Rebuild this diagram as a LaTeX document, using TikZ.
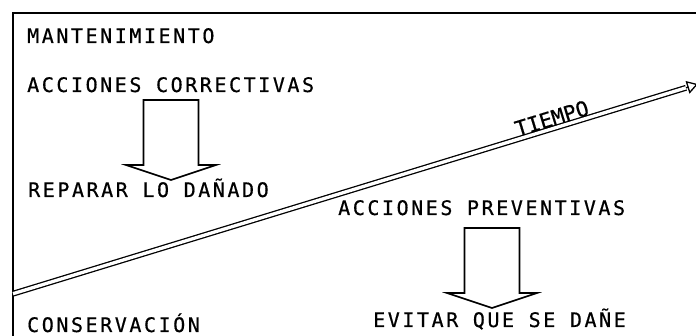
\documentclass[tikz,border=0pt]{standalone}
\usepackage{fontspec}
\newfontfamily\plotfont[LetterSpace=12.8, FakeBold=0.6]{DejaVu Sans Mono}
\newfontfamily\plotfontaxis[FakeBold=0.6]{DejaVu Sans Mono}
\usetikzlibrary{arrows.meta, calc}
\tikzset{
    lbl/.style={
        anchor=base west, inner sep=0pt,
        font=\plotfont\fontsize{20}{24}\selectfont
    },
    axislbl/.style={
        inner sep=1.5pt,
        font=\plotfontaxis\fontsize{21}{24}\selectfont
    },
    frame/.style={draw, line width=1.5pt},
    blockdown/.style={
        draw, line width=1.6pt, line join=miter,
        to path={
            let \p1=(\tikztostart), \p2=(\tikztotarget) in
            (\x1-27.5pt,\y1) -- (\x1-27.5pt,\y2+15pt) -- (\x1-45pt,\y2+15pt)
            -- (\x2,\y2) -- (\x1+45pt,\y2+15pt) -- (\x1+27.5pt,\y2+15pt)
            -- (\x1+27.5pt,\y1) -- cycle
        }
    },
    timeline/.style={double, line width=1.3pt, double distance=3.3pt},
    timehead/.style={
        line width=1.3pt,
        -{Triangle[open, length=11pt, width=13pt]},
    },
}
\begin{document}
\begin{tikzpicture}[x=1pt, y=-1pt]
    % frame, cut off at the right and the bottom
    \clip (0,0) rectangle (696,336);
    \draw[frame] (13,13) rectangle (730,370);

    % texts
    \node[lbl] (mant) at (27,43) {MANTENIMIENTO};
    \node[lbl] (corr) at (27,92) {ACCIONES CORRECTIVAS};
    \node[lbl] (rep) at (28,197) {REPARAR LO DAÑADO};
    \node[lbl] (cons) at (27,332) {CONSERVACIÓN};
    \node[lbl] (prev) at (338,215) {ACCIONES PREVENTIVAS};
    \node[lbl] (evit) at (373,327) {EVITAR QUE SE DAÑE};

    % hollow block arrows
    \coordinate (c1) at (171,100);
    \coordinate (c2) at (171,180);
    \coordinate (p1) at (492,228);
    \coordinate (p2) at (492,308);
    \draw[blockdown] (c1) to (c2);
    \draw[blockdown] (p1) to (p2);

    % time axis
    \coordinate (t0) at (13,293.7);
    \coordinate (t1) at (686,87.8);
    \coordinate (t2) at (698,84.1);
    \draw[timeline] (t0) -- node[pos=0.805, sloped, above, axislbl] (tiempo) {TIEMPO} (t1);
    \draw[timehead] (t1) -- (t2);
\end{tikzpicture}
\end{document}
